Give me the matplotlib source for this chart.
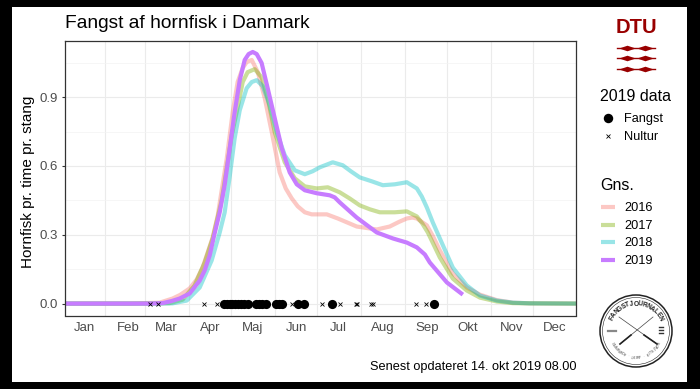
import numpy as np
import matplotlib
matplotlib.use('Agg')
import matplotlib.pyplot as plt
from matplotlib.patches import Circle, Rectangle

plt.rcParams['font.family'] = ['Liberation Sans', 'DejaVu Sans']

# day of year / catch per hour per rod
days_2016 = [3, 49, 70.4, 79.6, 85, 91.7, 96.7, 100.9, 108, 111.6, 114.4, 118, 122.2, 125.7, 129.3, 132.1, 135.7, 140,
             144.9, 149.9, 155.5, 159.8, 164, 168.3, 173.3, 178.2, 188.9, 196.7, 210.1, 224.3, 233.5, 240, 245.6,
             249.5, 252.7, 259.8, 264, 269, 278.2, 288.1, 297.4, 309.4, 320.8, 332.8, 365.5]
vals_2016 = [0, 0, .004, .022, .038, .066, .105, .157, .288, .384, .494, .633, .834, .966, 1.027, 1.053, 1.062, 1.009,
             .896, .747, .572, .502, .459, .424, .398, .389, .389, .371, .336, .323, .336, .356, .371,
             .375, .371, .341, .295, .232, .131, .07, .039, .015, .004, .001, 0]

days_2017 = [3, 63.3, 77.5, 86.7, 95.2, 102.3, 108, 114.4, 119.4, 121.5, 125, 129.3, 132.8, 137.8, 142.7, 147, 152,
             159.1, 166.2, 173.3, 181.8, 189.6, 198.1, 205.2, 212.3, 219.4, 226.4, 237.1, 245.6, 252.7, 256.5, 260.5,
             269, 278.2, 288.1, 297.4, 309.4, 320.8, 332.8, 365.5]
vals_2017 = [0, 0, .002, .017, .079, .179, .284, .45, .647, .734, .834, .966, 1.009, 1.022, .987, .896, .747,
             .616, .546, .511, .502, .507, .485, .458, .428, .411, .398, .398, .402, .38, .35, .31,
             .201, .109, .057, .026, .009, .002, .001, 0]

days_2018 = [3, 63.3, 79.6, 89.6, 98.8, 107.3, 113, 116.5, 120.1, 123.6, 127.2, 132.1, 135.7, 139.2, 143.5, 148.4,
             153.4, 159.1, 166.2, 173.3, 178.9, 183.9, 193.1, 200.2, 205.9, 212.3, 220.8, 228.6, 237.1, 245.6, 252.7,
             256.2, 259.8, 264, 269, 278.2, 288.1, 297.4, 309.4, 320.8, 332.8, 365.5]
vals_2018 = [0, 0, .001, .013, .07, .188, .31, .397, .555, .721, .843, .939, .966, .974, .948, .865,
             .747, .647, .581, .564, .577, .594, .616, .603, .577, .55, .533, .516, .52, .529, .502,
             .467, .419, .354, .284, .157, .079, .035, .013, .004, .001, 0]

days_2019 = [3, 49.2, 63.3, 72.6, 78.9, 84.6, 91.7, 98.8, 102.3, 105.9, 109.4, 113, 116.5, 120.1, 123.6, 127.2, 130.7,
             133.5, 136.4, 139.2, 142.7, 147, 152, 157, 162.6, 167.6, 173.3, 181.8, 191, 194.5, 198.1, 210.1, 224.3,
             235.7, 240.6, 245.6, 252.7, 258.4, 261.9, 274, 285.3]
vals_2019 = [0, 0, 0, .002, .011, .022, .044, .10, .144, .21, .306, .398, .516, .677, .834, .974, 1.062,
             1.088, 1.097, 1.088, 1.049, .939, .808, .677, .572, .52, .494, .481, .472, .463, .441, .375, .31,
             .284, .275, .266, .245, .214, .179, .092, .039]

fangst_days = [116, 118, 120, 122, 124, 126, 128, 130, 133, 139, 141, 143, 146, 153, 155, 157, 168.3, 172.5, 192.4, 264.7]
nultur_days = [63.3, 69, 101.6, 110.8, 164, 185.3, 198, 209.4, 210.1, 220, 221.5, 252, 259.1]

month_labels = ['Jan', 'Feb', 'Mar', 'Apr', 'Maj', 'Jun', 'Jul', 'Aug', 'Sep', 'Okt', 'Nov', 'Dec']
month_mid = [17.2, 48.4, 75.4, 106.6, 136.4, 167.6, 197.4, 228.6, 259.8, 288.9, 320, 350.6]
month_first = [32, 60, 91, 121, 152, 182, 213, 244, 274, 305, 335]
y_ticks = [0.0, 0.3, 0.6, 0.9]
y_minor = [0.15, 0.45, 0.75, 1.05]

years = ['2016', '2017', '2018', '2019']
colors = ['#F8766D', '#7CAE00', '#00BFC4', '#C77CFF']
alphas = [0.4, 0.4, 0.4, 1.0]
series = [(days_2016, vals_2016), (days_2017, vals_2017), (days_2018, vals_2018), (days_2019, vals_2019)]

W, H = 700, 389
fig = plt.figure(figsize=(W / 100, H / 100), dpi=100, facecolor='black')

# full-figure layer in pixels for the white page, legends and logos
bg = fig.add_axes([0, 0, 1, 1], zorder=0)
bg.set_xlim(0, W)
bg.set_ylim(H, 0)
bg.axis('off')
bg.add_patch(Rectangle((12, 7), 675, 375, fc='white', ec='none'))

L, R, T, B = 64.5, 576, 40.5, 315.5
ax = fig.add_axes([L / W, 1 - B / H, (R - L) / W, (B - T) / H], zorder=1)
ax.set_xlim(3, 365.5)
ax.set_ylim(-0.052, 1.147)

ax.set_xticks(month_mid)
ax.set_xticklabels(month_labels)
ax.set_xticks(month_first, minor=True)
ax.set_yticks(y_ticks)
ax.set_yticklabels(['%.1f' % v for v in y_ticks])
ax.set_yticks(y_minor, minor=True)
ax.tick_params(axis='x', which='both', length=0, labelsize=9.5, labelcolor='#4D4D4D', pad=5)
ax.tick_params(axis='y', which='major', length=2.5, width=0.8, color='#333333', labelsize=9.5, labelcolor='#4D4D4D', pad=2)
ax.tick_params(axis='y', which='minor', length=0)
ax.grid(True, axis='x', which='minor', color='#EBEBEB', lw=0.8)
ax.grid(True, axis='y', which='major', color='#EBEBEB', lw=0.8)
ax.grid(True, axis='y', which='minor', color='#F3F3F3', lw=0.5)
ax.set_axisbelow(True)
for s in ax.spines.values():
    s.set_color('#333333')
    s.set_linewidth(0.9)

for (d, v), c, a in zip(series, colors, alphas):
    ax.plot(d, v, color=c, alpha=a, lw=3.0, solid_joinstyle='round', solid_capstyle='butt')

ax.plot(fangst_days, np.zeros(len(fangst_days)), 'o', color='black', ms=6.6, mew=0, zorder=5, clip_on=False)
ax.plot(nultur_days, np.zeros(len(nultur_days)), 'x', color='black', ms=2.6, mew=0.6, zorder=5)

bg.text(28, 182, 'Hornfisk pr. time pr. stang', fontsize=11, rotation=90, va='center', ha='center')
bg.text(65, 23, 'Fangst af hornfisk i Danmark', fontsize=13.8, va='center', ha='left')
bg.text(576, 367, 'Senest opdateret 14. okt 2019 08.00', fontsize=9.2, va='center', ha='right')

# 2019 data legend
bg.text(600, 96, '2019 data', fontsize=11.5, va='center')
bg.plot([608], [118], 'o', color='black', ms=6.8, mew=0)
bg.plot([608], [136], 'x', color='black', ms=2.6, mew=0.6)
bg.text(624, 119, 'Fangst', fontsize=9.2, va='center')
bg.text(624, 137, 'Nultur', fontsize=9.2, va='center')

# average legend
bg.text(600, 185, 'Gns.', fontsize=11.5, va='center')
for yr, c, a, yy in zip(years, colors, alphas, [207, 225, 242, 260]):
    bg.plot([601, 615], [yy, yy], color=c, alpha=a, lw=3.0, solid_capstyle='butt')
    bg.text(624, yy + 1, yr, fontsize=9.2, va='center')

# DTU logo
dtu_red = '#990000'
bg.text(636, 27.5, 'DTU', fontsize=14.5, fontweight='bold', color=dtu_red, ha='center', va='center')
lens = [(-3, 0), (0, 1), (3, 0), (0, -1)]
for yy in [47.5, 58, 68.5]:
    bg.plot([617, 655], [yy, yy], color=dtu_red, lw=1.0)
    bg.plot([627, 645], [yy, yy], linestyle='none', marker=lens, color=dtu_red, ms=12, mew=0)

# Fangstjournalen badge
cx, cy, r = 636, 331, 36
bg.add_patch(Circle((cx, cy), r, fc='white', ec='#222222', lw=1.1))
bg.add_patch(Circle((cx, cy), r - 2.5, fc='none', ec='#222222', lw=0.4))
top_text = 'FANGSTJOURNALEN'
for i, ch in enumerate(top_text):
    ang = np.radians(-62 + 124 * i / (len(top_text) - 1))
    bg.text(cx + (r - 9) * np.sin(ang), cy - (r - 9) * np.cos(ang), ch, fontsize=4.8, fontweight='bold',
            rotation=-np.degrees(ang), ha='center', va='center', color='#222222')
low_text = 'STATISTIK · PRIKL · FORSKNING'
for i, ch in enumerate(low_text):
    ang = np.radians(62 - 124 * i / (len(low_text) - 1))
    bg.text(cx + (r - 9) * np.sin(ang), cy + (r - 9) * np.cos(ang), ch, fontsize=2.6,
            rotation=np.degrees(ang), ha='center', va='center', color='#444444')
bg.plot([cx - 17, cx + 21], [cy - 14, cy + 13], color='#444444', lw=0.5)
bg.plot([cx + 17, cx - 16], [cy - 14, cy + 13], color='#444444', lw=0.5)
bg.plot([cx + 8, cx + 21], [cy + 4, cy + 13], color='#222222', lw=1.2)
bg.plot([cx - 5, cx - 16], [cy + 4, cy + 13], color='#222222', lw=1.2)
bg.plot([cx - 28, cx - 20], [cy, cy], color='#888888', lw=1.6)
for dy in [-4, -1, 2]:
    bg.plot([cx + 23, cx + 27], [cy + dy, cy + dy], color='#333333', lw=1)

fig.savefig('out.png', dpi=100, facecolor='black')
